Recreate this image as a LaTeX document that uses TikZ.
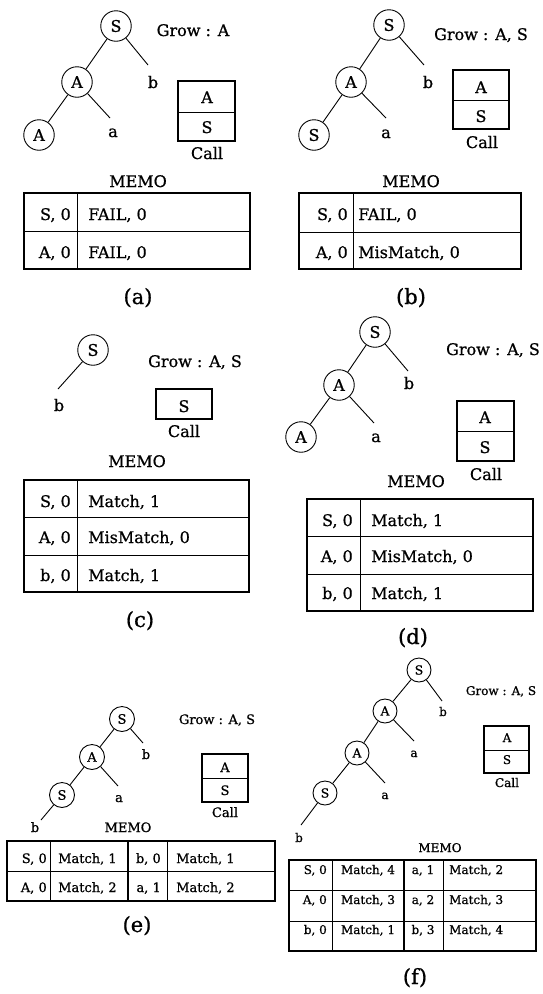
\documentclass[tikz,border=0pt]{standalone}
\usepackage{fontspec}
\setmainfont{DejaVu Serif}[RawFeature={embolden=0.8}]
\newcommand{\fsz}[1]{\fontsize{#1}{#1}\selectfont}
\tikzset{
  nd/.style={circle, draw, line width=0.9pt, minimum size=30.5pt, inner sep=0pt, font=\fsz{16}},
  snd/.style={nd, minimum size=25pt, font=\fsz{13}},
  tnd/.style={nd, minimum size=24pt, font=\fsz{12.5}},
  edge/.style={line width=0.9pt},
  txt/.style={inner sep=0pt, anchor=base, font=\fsz{16}},
  stxt/.style={txt, font=\fsz{13}},
  ttxt/.style={txt, font=\fsz{12}},
  caplab/.style={txt, font=\fsz{21}},
  outer/.style={line width=1.1pt},
  inner/.style={line width=0.7pt},
}
\begin{document}
\begin{tikzpicture}[x=1pt,y=-1pt]
\useasboundingbox (0,0) rectangle (542,994);
% ---------------- (a)
\node[nd] (aS) at (116,26) {S};
\node[nd] (aA) at (77,82) {A};
\node[nd] (aA2) at (39,135) {A};
\coordinate (abE) at (148,65);
\coordinate (aaE) at (110,118);
\draw[edge] (aS) -- (aA); \draw[edge] (aA) -- (aA2);
\draw[edge] (aS) -- (abE); \draw[edge] (aA) -- (aaE);
\node[txt] (ab) at (153,88) {b};
\node[txt] (aa) at (113,137) {a};
\node[txt] (agrow) at (193,36) {Grow : A};
\draw[outer] (178,81) rectangle (235,141); \draw[inner] (178,112) -- (235,112);
\node[txt] (acA) at (207,103) {A};
\node[txt] (acS) at (207,133) {S};
\node[txt] (acall) at (207,159) {Call};
\node[txt] (amemo) at (138,187) {MEMO};
\draw[outer] (24,193) rectangle (250,269);
\draw[inner] (24,231) -- (250,231); \draw[inner] (77,193) -- (77,269);
\node[txt, anchor=base east] (a11) at (71,220) {S, 0};
\node[txt, anchor=base west] (a12) at (88,220) {FAIL, 0};
\node[txt, anchor=base east] (a21) at (71,258) {A, 0};
\node[txt, anchor=base west] (a22) at (88,258) {FAIL, 0};
\node[caplab] (alab) at (138,304) {(a)};
% ---------------- (b)
\node[nd] (bS) at (389,25) {S};
\node[nd] (bA) at (351,82) {A};
\node[nd] (bS2) at (314,135) {S};
\coordinate (bbE) at (424,65);
\coordinate (baE) at (386,118);
\draw[edge] (bS) -- (bA); \draw[edge] (bA) -- (bS2);
\draw[edge] (bS) -- (bbE); \draw[edge] (bA) -- (baE);
\node[txt] (bb) at (428,88) {b};
\node[txt] (ba) at (386,138) {a};
\node[txt] (bgrow) at (481,40) {Grow : A, S};
\draw[outer] (453,70) rectangle (509,129); \draw[inner] (453,100) -- (509,100);
\node[txt] (bcA) at (481,93) {A};
\node[txt] (bcS) at (481,122) {S};
\node[txt] (bcall) at (482,148) {Call};
\node[txt] (bmemo) at (411,187) {MEMO};
\draw[outer] (299,193) rectangle (521,269);
\draw[inner] (299,232) -- (521,232); \draw[inner] (353,193) -- (353,269);
\node[txt, anchor=base east] (b11) at (348,220) {S, 0};
\node[txt, anchor=base west] (b12) at (358,220) {FAIL, 0};
\node[txt, anchor=base east] (b21) at (348,258) {A, 0};
\node[txt, anchor=base west] (b22) at (358,258) {MisMatch, 0};
\node[caplab] (blab) at (411,304) {(b)};
% ---------------- (c)
\node[nd] (cS) at (93,350) {S};
\coordinate (cbE) at (58,389);
\draw[edge] (cS) -- (cbE);
\node[txt] (cb) at (59,411) {b};
\node[txt] (cgrow) at (195,367) {Grow : A, S};
\draw[outer] (156,389) rectangle (212,419);
\node[txt] (ccS) at (184,412) {S};
\node[txt] (ccall) at (184,437) {Call};
\node[txt] (cmemo) at (137,467) {MEMO};
\draw[outer] (24,480) rectangle (249,592);
\draw[inner] (24,517) -- (249,517); \draw[inner] (24,555) -- (249,555);
\draw[inner] (77,480) -- (77,592);
\node[txt, anchor=base east] (c11) at (71,507) {S, 0};
\node[txt, anchor=base west] (c12) at (88,507) {Match, 1};
\node[txt, anchor=base east] (c21) at (71,543) {A, 0};
\node[txt, anchor=base west] (c22) at (88,543) {MisMatch, 0};
\node[txt, anchor=base east] (c31) at (71,581) {b, 0};
\node[txt, anchor=base west] (c32) at (88,581) {Match, 1};
\node[caplab] (clab) at (140,627) {(c)};
% ---------------- (d)
\node[nd] (dS) at (375,332) {S};
\node[nd] (dA) at (339,385) {A};
\node[nd] (dA2) at (301,437) {A};
\coordinate (dbE) at (408,371);
\coordinate (daE) at (374,423);
\draw[edge] (dS) -- (dA); \draw[edge] (dA) -- (dA2);
\draw[edge] (dS) -- (dbE); \draw[edge] (dA) -- (daE);
\node[txt] (db) at (409,389) {b};
\node[txt] (da) at (376,442) {a};
\node[txt] (dgrow) at (493,355) {Grow : A, S};
\draw[outer] (457,401) rectangle (514,461); \draw[inner] (457,431) -- (514,431);
\node[txt] (dcA) at (485,423) {A};
\node[txt] (dcS) at (485,453) {S};
\node[txt] (dcall) at (486,480) {Call};
\node[txt] (dmemo) at (416,487) {MEMO};
\draw[outer] (307,499) rectangle (533,611);
\draw[inner] (307,536) -- (533,536); \draw[inner] (307,574) -- (533,574);
\draw[inner] (360,499) -- (360,611);
\node[txt, anchor=base east] (d11) at (353,526) {S, 0};
\node[txt, anchor=base west] (d12) at (371,526) {Match, 1};
\node[txt, anchor=base east] (d21) at (353,562) {A, 0};
\node[txt, anchor=base west] (d22) at (371,562) {MisMatch, 0};
\node[txt, anchor=base east] (d31) at (353,599) {b, 0};
\node[txt, anchor=base west] (d32) at (371,599) {Match, 1};
\node[caplab] (dlab) at (413,644) {(d)};
% ---------------- (e)
\node[snd] (eS) at (122,719) {S};
\node[snd] (eA) at (92,757) {A};
\node[snd] (eS2) at (62,795) {S};
\coordinate (ebE) at (143,743);
\coordinate (eaE) at (118,786);
\coordinate (eb2E) at (41,820);
\draw[edge] (eS) -- (eA); \draw[edge] (eA) -- (eS2);
\draw[edge] (eS) -- (ebE); \draw[edge] (eA) -- (eaE); \draw[edge] (eS2) -- (eb2E);
\node[stxt] (eb) at (146,759) {b};
\node[stxt] (ea) at (119,802) {a};
\node[stxt] (eb2) at (35,832) {b};
\node[stxt] (egrow) at (217,724) {Grow : A, S};
\draw[outer] (202,754) rectangle (248,802); \draw[inner] (202,778) -- (248,778);
\node[stxt] (ecA) at (225,772) {A};
\node[stxt] (ecS) at (225,795) {S};
\node[stxt] (ecall) at (225,817) {Call};
\node[stxt] (ememo) at (128,832) {MEMO};
\draw[outer] (7,841) rectangle (275,901);
\draw[inner] (7,871) -- (275,871);
\draw[inner] (50,841) -- (50,901); \draw[inner] (167,841) -- (167,901);
\draw[line width=1.1pt] (128,841) -- (128,901);
\node[stxt, anchor=base east] (e11) at (47,863) {S, 0};
\node[stxt, anchor=base west] (e12) at (58,863) {Match, 1};
\node[stxt, anchor=base east] (e13) at (161,863) {b, 0};
\node[stxt, anchor=base west] (e14) at (176,863) {Match, 1};
\node[stxt, anchor=base east] (e21) at (47,892) {A, 0};
\node[stxt, anchor=base west] (e22) at (58,892) {Match, 2};
\node[stxt, anchor=base east] (e23) at (161,892) {a, 1};
\node[stxt, anchor=base west] (e24) at (176,892) {Match, 2};
\node[caplab] (elab) at (137,932) {(e)};
% ---------------- (f)
\node[tnd] (fS) at (419,670) {S};
\node[tnd] (fA) at (385,711) {A};
\node[tnd] (fA2) at (357,753) {A};
\node[tnd] (fS2) at (325,793) {S};
\coordinate (fbE) at (442,701);
\coordinate (faE) at (414,741);
\coordinate (fa2E) at (385,783);
\coordinate (fb2E) at (301,825);
\draw[edge] (fS) -- (fA); \draw[edge] (fA) -- (fA2); \draw[edge] (fA2) -- (fS2);
\draw[edge] (fS) -- (fbE); \draw[edge] (fA) -- (faE); \draw[edge] (fA2) -- (fa2E);
\draw[edge] (fS2) -- (fb2E);
\node[ttxt] (fb) at (443,716) {b};
\node[ttxt] (fa) at (414,757) {a};
\node[ttxt] (fa2) at (385,799) {a};
\node[ttxt] (fb2) at (299,842) {b};
\node[ttxt] (fgrow) at (501,695) {Grow : A, S};
\draw[outer] (484,726) rectangle (529,773); \draw[inner] (484,750) -- (529,750);
\node[ttxt] (fcA) at (507,742) {A};
\node[ttxt] (fcS) at (507,764) {S};
\node[ttxt] (fcall) at (507,787) {Call};
\node[ttxt] (fmemo) at (440,852) {MEMO};
\draw[outer] (289,860) rectangle (536,951);
\draw[inner] (289,890) -- (536,890); \draw[inner] (289,921) -- (536,921);
\draw[inner] (332,860) -- (332,951); \draw[inner] (443,860) -- (443,951);
\draw[line width=1.1pt] (404,860) -- (404,951);
\node[ttxt, anchor=base east] (f11) at (327,874) {S, 0};
\node[ttxt] (f12) at (368,874) {Match, 4};
\node[ttxt] (f13) at (423,874) {a, 1};
\node[ttxt, anchor=base west] (f14) at (449,874) {Match, 2};
\node[ttxt, anchor=base east] (f21) at (327,904) {A, 0};
\node[ttxt] (f22) at (368,904) {Match, 3};
\node[ttxt] (f23) at (423,904) {a, 2};
\node[ttxt, anchor=base west] (f24) at (449,904) {Match, 3};
\node[ttxt, anchor=base east] (f31) at (327,934) {b, 0};
\node[ttxt] (f32) at (368,934) {Match, 1};
\node[ttxt] (f33) at (423,934) {b, 3};
\node[ttxt, anchor=base west] (f34) at (449,934) {Match, 4};
\node[caplab] (flab) at (415,984) {(f)};
\end{tikzpicture}
\end{document}
